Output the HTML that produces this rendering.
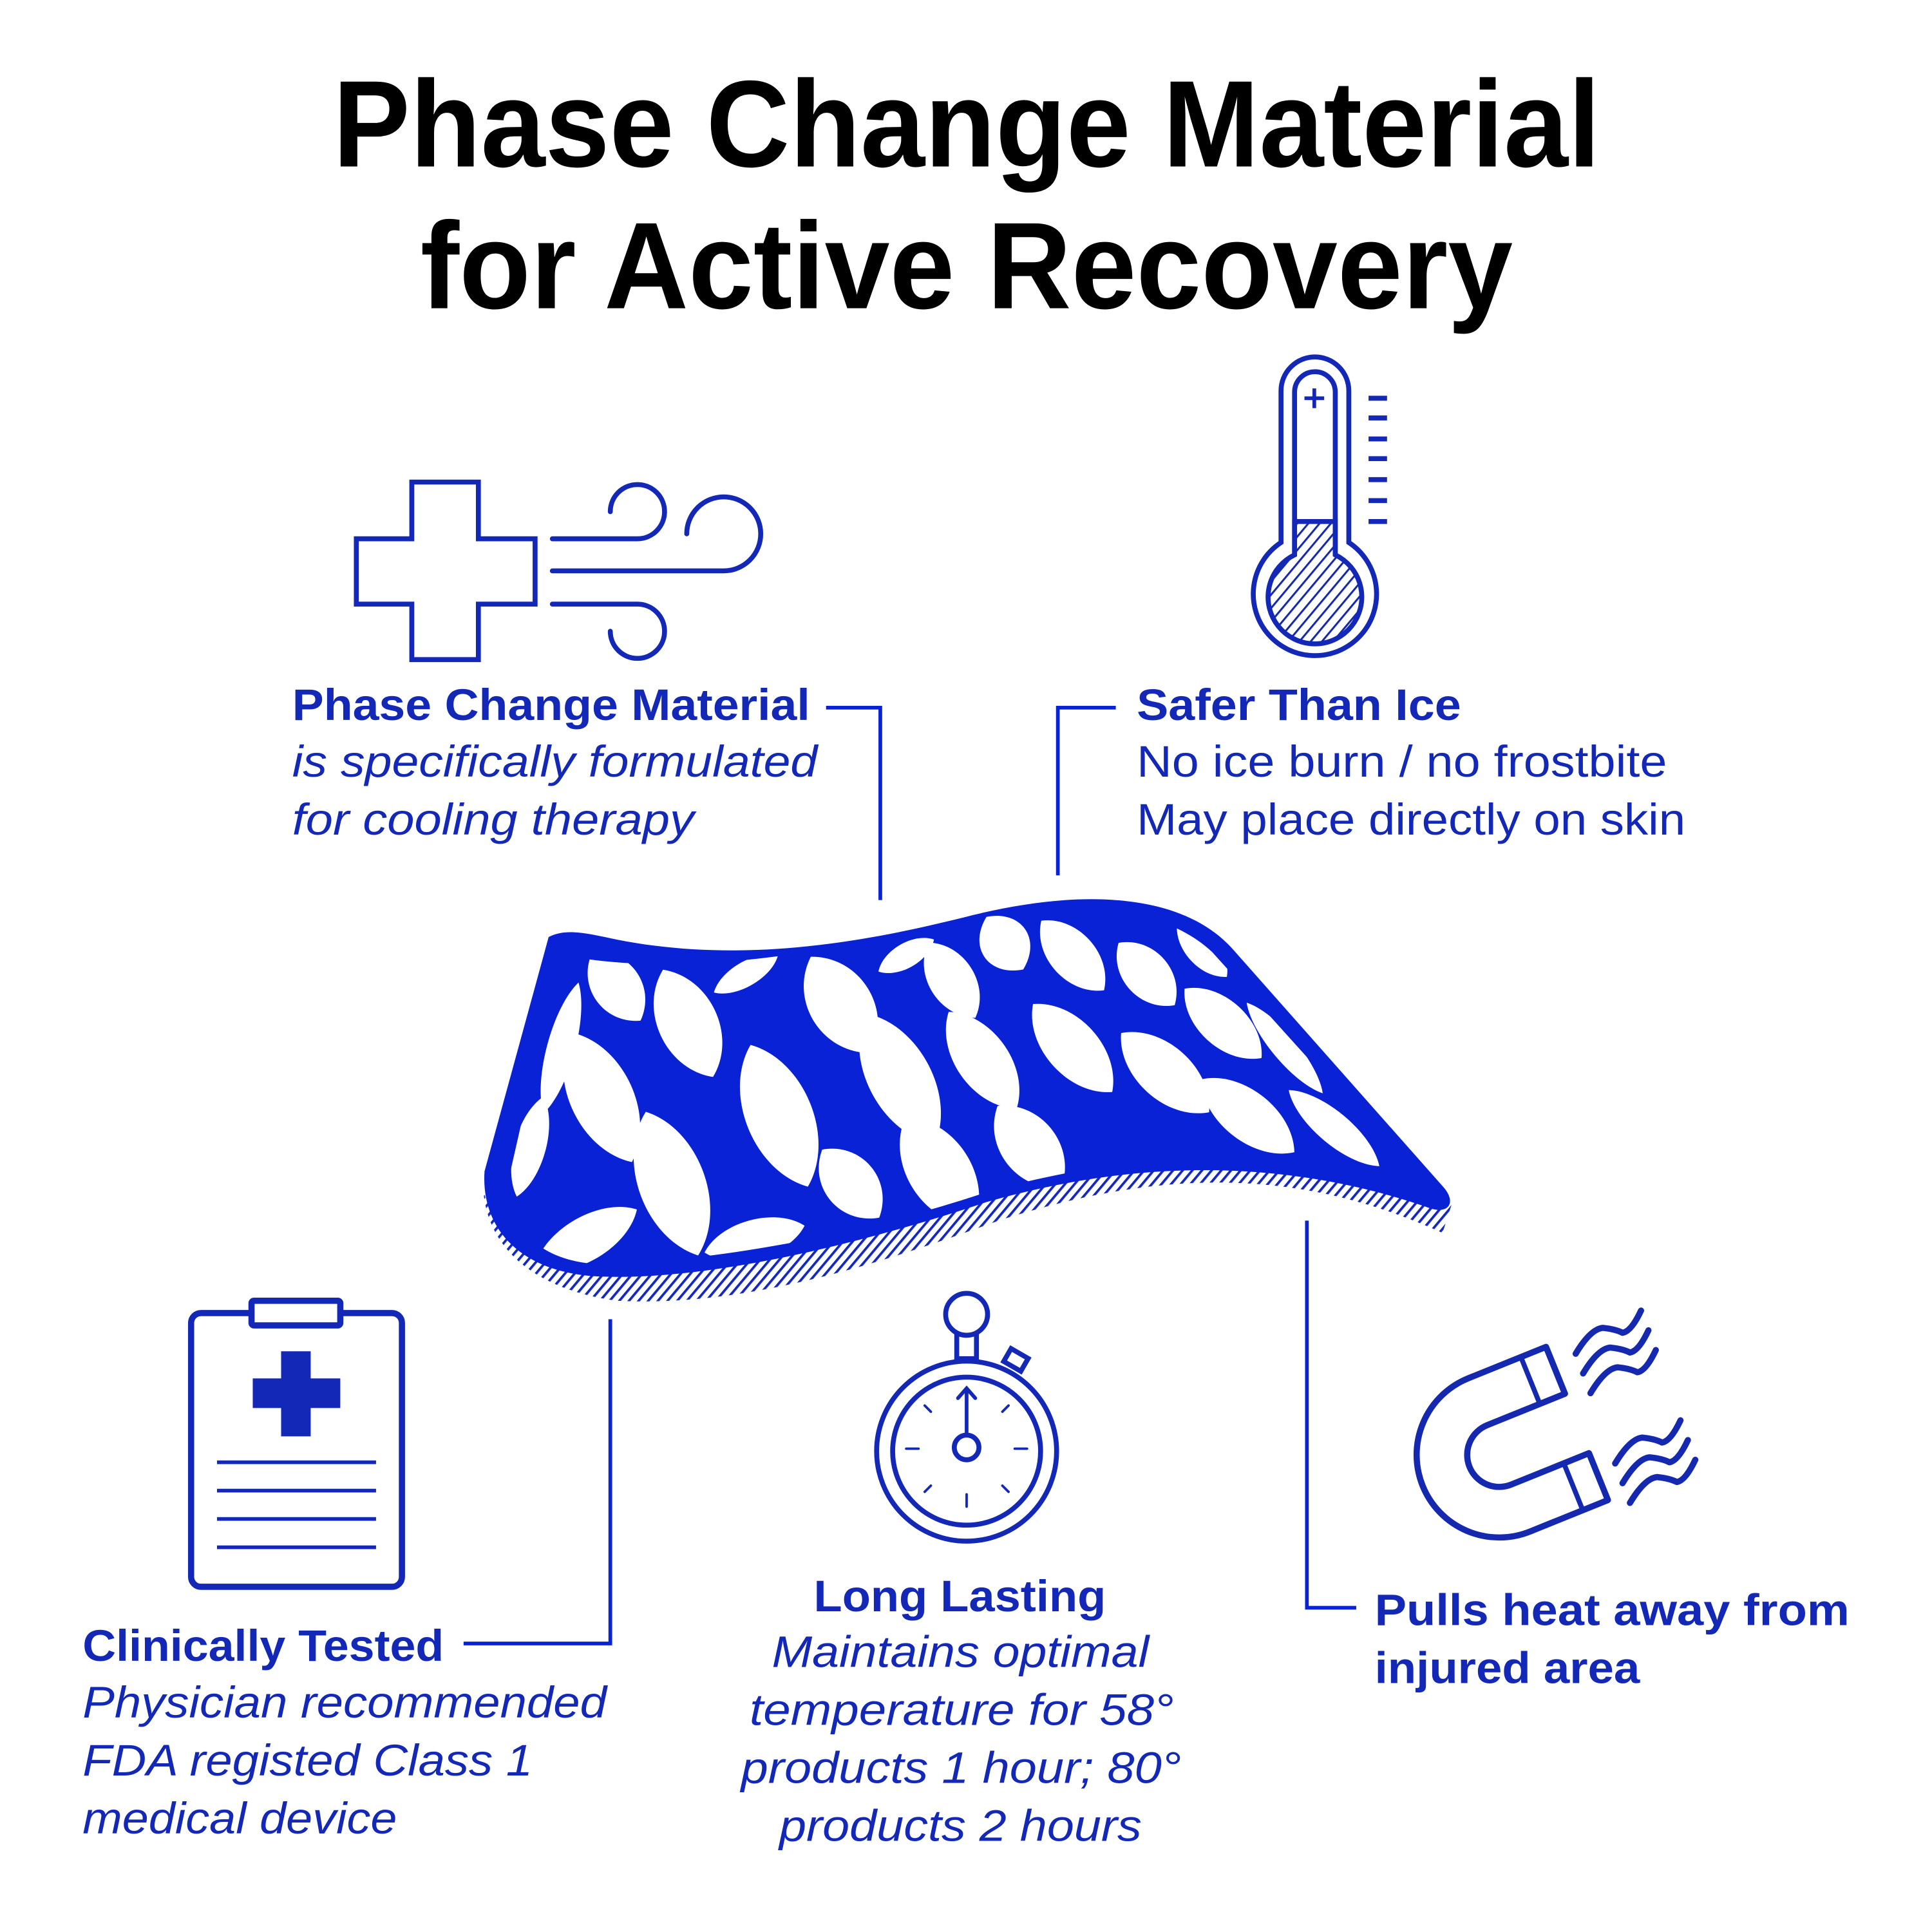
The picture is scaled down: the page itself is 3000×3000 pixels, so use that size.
<!DOCTYPE html>
<html><head><meta charset="utf-8"><style>
html,body{margin:0;padding:0;background:#fff}
svg{display:block}
.t{font-family:"Liberation Sans",sans-serif}
</style></head><body>
<svg width="3000" height="3000" viewBox="0 0 1567 1567" xmlns="http://www.w3.org/2000/svg">
<defs>
<pattern id="h" width="6" height="6" patternUnits="userSpaceOnUse" patternTransform="rotate(40)">
<rect width="6" height="6" fill="#fff"/><rect width="2" height="6" fill="#1428c0"/>
</pattern>
<pattern id="h2" width="7" height="7" patternUnits="userSpaceOnUse" patternTransform="rotate(40)">
<rect width="7" height="7" fill="#fff"/><rect width="1.6" height="7" fill="#1428b0"/>
</pattern>
<path id="lf" d="M0,-1 C0.95,-0.55 0.95,0.55 0,1 C-0.95,0.55 -0.95,-0.55 0,-1 Z"/>
<clipPath id="mc"><path d="M454,774 C540,792 650,778 760,750 C860,728 940,732 983,772 L1158,966 C1060,935 940,927 800,967 C680,1007 560,1025 480,1025 C432,1020 410,992 414,950 Z"/></clipPath>
</defs>

<text class="t" x="784" y="135" text-anchor="middle" font-size="100" font-weight="bold" textLength="1028" lengthAdjust="spacingAndGlyphs">Phase Change Material</text>
<text class="t" x="784" y="250" text-anchor="middle" font-size="100" font-weight="bold" textLength="886" lengthAdjust="spacingAndGlyphs">for Active Recovery</text>

<path d="M392,965 C395,1010 430,1045 500,1055 C600,1060 700,1030 810,990 C950,945 1060,950 1170,1000 L1178,975 C1060,930 940,925 800,965 C680,1005 560,1025 480,1025 C430,1020 400,1000 392,965 Z" fill="url(#h)"/>
<path d="M445,760 C460,752 480,758 500,762 C600,782 700,765 790,742 C880,720 960,725 1000,770 L1170,962 C1182,975 1175,985 1160,980 C1060,945 940,935 800,975 C680,1015 560,1040 480,1035 C420,1030 390,995 393,950 Z" fill="#0a22d6"/>
<g clip-path="url(#mc)" fill="#fff">
<use href="#lf" transform="translate(455,850) rotate(15) scale(16,55)"/>
<use href="#lf" transform="translate(430,930) rotate(15) scale(18,42)"/>
<use href="#lf" transform="translate(500,800) rotate(-35) scale(28,34)"/>
<use href="#lf" transform="translate(488,890) rotate(-25) scale(36,58)"/>
<use href="#lf" transform="translate(475,1005) rotate(60) scale(25,48)"/>
<use href="#lf" transform="translate(558,830) rotate(-25) scale(34,48)"/>
<use href="#lf" transform="translate(545,960) rotate(-20) scale(38,62)"/>
<use href="#lf" transform="translate(605,790) rotate(60) scale(14,30)"/>
<use href="#lf" transform="translate(632,905) rotate(-22) scale(38,62)"/>
<use href="#lf" transform="translate(612,1005) rotate(75) scale(22,42)"/>
<use href="#lf" transform="translate(682,815) rotate(-32) scale(36,46)"/>
<use href="#lf" transform="translate(690,960) rotate(-40) scale(30,36)"/>
<use href="#lf" transform="translate(730,875) rotate(-28) scale(36,60)"/>
<use href="#lf" transform="translate(735,775) rotate(60) scale(14,26)"/>
<use href="#lf" transform="translate(772,795) rotate(-32) scale(26,36)"/>
<use href="#lf" transform="translate(797,860) rotate(-35) scale(30,48)"/>
<use href="#lf" transform="translate(762,950) rotate(-32) scale(36,52)"/>
<use href="#lf" transform="translate(815,765) rotate(-35) scale(28,26)"/>
<use href="#lf" transform="translate(835,930) rotate(-38) scale(32,42)"/>
<use href="#lf" transform="translate(870,775) rotate(-42) scale(26,38)"/>
<use href="#lf" transform="translate(870,850) rotate(-42) scale(30,48)"/>
<use href="#lf" transform="translate(930,790) rotate(-42) scale(26,34)"/>
<use href="#lf" transform="translate(945,870) rotate(-48) scale(30,48)"/>
<use href="#lf" transform="translate(975,770) rotate(-42) scale(18,30)"/>
<use href="#lf" transform="translate(992,830) rotate(-48) scale(26,42)"/>
<use href="#lf" transform="translate(1012,905) rotate(-52) scale(28,48)"/>
<use href="#lf" transform="translate(1042,850) rotate(-40) scale(14,48)"/>
<use href="#lf" transform="translate(1082,915) rotate(-50) scale(18,48)"/>
</g>

<g stroke="#0a22d6" stroke-width="3" fill="none">
<polyline points="670,574 714,574 714,730"/>
<polyline points="905,574 858,574 858,710"/>
<polyline points="376,1333 495,1333 495,1070"/>
<polyline points="1060,990 1060,1304 1100,1304"/>
</g>

<g stroke="#1428b8" stroke-width="4" fill="none" stroke-linecap="round" stroke-linejoin="round">
<path d="M334,391 H388 V437 H434 V490 H388 V535 H334 V490 H289 V437 H334 Z" stroke-linecap="butt" stroke-linejoin="miter"/>
<path d="M448,437 H517 A22,22 0 1 0 495,415"/>
<path d="M448,463 H587 A30,30 0 1 0 557,433"/>
<path d="M448,490 H517 A22,22 0 1 1 495,512"/>
</g>
<g stroke="#1428b8" stroke-width="4" fill="none">
<path d="M1039,440 V317 A27.5,27.5 0 0 1 1094,317 V440 A50,50 0 1 1 1039,440 Z"/>
<path d="M1050,423 H1083 V450 A38,38 0 1 1 1050,450 Z" fill="url(#h2)"/>
<path d="M1050,450 V318 A16.5,16.5 0 0 1 1083,318 V450"/>
<path d="M1058,323 H1074 M1066,315 V331" stroke-width="3"/>
<path d="M1110,323 H1125 M1110,339 H1125 M1110,356 H1125 M1110,372 H1125 M1110,389 H1125 M1110,406 H1125 M1110,423 H1125" stroke-width="4"/>
</g>
<g stroke="#1428b8" stroke-width="5" fill="none">
<rect x="155" y="1065" width="171" height="222" rx="8"/>
<rect x="204" y="1055" width="72" height="20" rx="2" fill="#fff"/>
<path d="M176,1186 H305 M176,1209 H305 M176,1232 H305 M176,1255 H305" stroke-width="3"/>
</g>
<path d="M228,1096 H252 V1118 H276 V1142 H252 V1165 H228 V1142 H205 V1118 H228 Z" fill="#1428b8"/>
<g stroke="#1428b8" stroke-width="4" fill="none" stroke-linecap="round">
<circle cx="784" cy="1177" r="73"/>
<circle cx="784" cy="1177" r="60"/>
<rect x="776" y="1076" width="16" height="26" fill="#fff"/>
<circle cx="784" cy="1066" r="17" fill="#fff"/>
<rect x="816" y="1097" width="16" height="12" transform="rotate(30 824 1103)" fill="#fff"/>
<circle cx="784" cy="1174" r="10"/>
<path d="M784,1164 V1127 M777,1134 L784,1126 L791,1134" stroke-width="3"/>
<path d="M735,1175 H745 M823,1175 H833 M784,1212 V1222 M750,1140 L755,1145 M818,1140 L813,1145 M750,1210 L755,1205 M818,1210 L813,1205" stroke-width="2"/>
</g>
<g stroke="#1428b0" stroke-width="5" fill="none" stroke-linejoin="round" stroke-linecap="round">
<g transform="translate(1216,1180) rotate(-22)">
<path d="M0,-67 H68 V-26 H0 A26,26 0 0 0 0,26 H68 V67 H0 A67,67 0 0 1 0,-67 Z"/>
<path d="M46,-67 V-26 M46,26 V67" stroke-width="4"/>
</g>
<g transform="translate(20,10)">
<g id="wv">
<path d="M1258,1088 Q1270,1068 1280,1067 Q1290,1068 1296,1071 Q1303,1070 1311,1053"/>
<path d="M1264,1104 Q1276,1084 1286,1083 Q1296,1084 1302,1087 Q1309,1086 1317,1069"/>
<path d="M1270,1120 Q1282,1100 1292,1099 Q1302,1100 1308,1103 Q1315,1102 1323,1085"/>
</g>
<use href="#wv" transform="translate(32,89)"/>
</g>
</g>

<g class="t" fill="#1428b8">
<text x="237" y="584" font-size="36" font-weight="bold" textLength="420" lengthAdjust="spacingAndGlyphs">Phase Change Material</text>
<text x="237" y="630" font-size="36" font-style="italic" textLength="426" lengthAdjust="spacingAndGlyphs">is specifically formulated</text>
<text x="237" y="677" font-size="36" font-style="italic" textLength="326" lengthAdjust="spacingAndGlyphs">for cooling therapy</text>

<text x="922" y="584" font-size="36" font-weight="bold" textLength="263" lengthAdjust="spacingAndGlyphs">Safer Than Ice</text>
<text x="922" y="630" font-size="36" textLength="430" lengthAdjust="spacingAndGlyphs">No ice burn / no frostbite</text>
<text x="922" y="677" font-size="36" textLength="445" lengthAdjust="spacingAndGlyphs">May place directly on skin</text>

<text x="67" y="1347" font-size="36" font-weight="bold" textLength="293" lengthAdjust="spacingAndGlyphs">Clinically Tested</text>
<text x="67" y="1393" font-size="36" font-style="italic" textLength="425" lengthAdjust="spacingAndGlyphs">Physician recommended</text>
<text x="67" y="1440" font-size="36" font-style="italic" textLength="365" lengthAdjust="spacingAndGlyphs">FDA registed Class 1</text>
<text x="67" y="1487" font-size="36" font-style="italic" textLength="255" lengthAdjust="spacingAndGlyphs">medical device</text>

<text x="660" y="1307" font-size="36" font-weight="bold" textLength="237" lengthAdjust="spacingAndGlyphs">Long Lasting</text>
<text x="626" y="1352" font-size="36" font-style="italic" textLength="306" lengthAdjust="spacingAndGlyphs">Maintains optimal</text>
<text x="608" y="1399" font-size="36" font-style="italic" textLength="344" lengthAdjust="spacingAndGlyphs">temperature for 58°</text>
<text x="601" y="1446" font-size="36" font-style="italic" textLength="357" lengthAdjust="spacingAndGlyphs">products 1 hour; 80°</text>
<text x="632" y="1493" font-size="36" font-style="italic" textLength="294" lengthAdjust="spacingAndGlyphs">products 2 hours</text>

<text x="1115" y="1318" font-size="36" font-weight="bold" textLength="385" lengthAdjust="spacingAndGlyphs">Pulls heat away from</text>
<text x="1115" y="1365" font-size="36" font-weight="bold" textLength="215" lengthAdjust="spacingAndGlyphs">injured area</text>
</g>
</svg>
</body></html>
